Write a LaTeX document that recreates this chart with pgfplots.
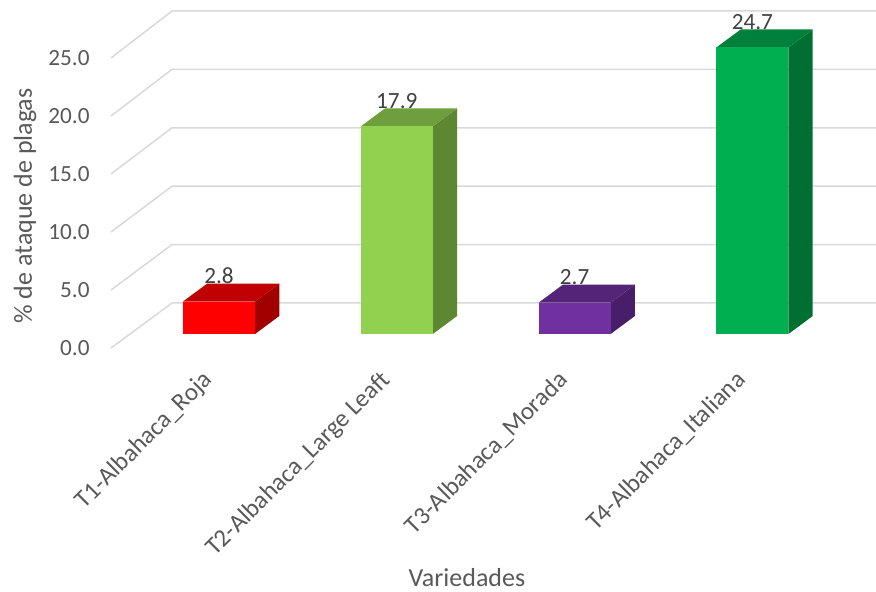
\documentclass[border=0pt]{standalone}
\usepackage{fontspec}
\setmainfont{Carlito}
\usepackage{pgfplots}
\pgfplotsset{compat=1.18}

\definecolor{txt}{HTML}{595959}
\definecolor{gridc}{HTML}{D9D9D9}
% front / top / side shades of each column
\definecolor{c1f}{HTML}{FF0000}\definecolor{c1t}{HTML}{C00000}\definecolor{c1s}{HTML}{A00000}
\definecolor{c2f}{HTML}{92D050}\definecolor{c2t}{HTML}{6F9E3C}\definecolor{c2s}{HTML}{5E8732}
\definecolor{c3f}{HTML}{7030A0}\definecolor{c3t}{HTML}{542478}\definecolor{c3s}{HTML}{481E68}
\definecolor{c4f}{HTML}{00B050}\definecolor{c4t}{HTML}{00803A}\definecolor{c4s}{HTML}{007032}

% half width of a column and the oblique depth offset, in data units
\newcommand\hw{0.2025}
\newcommand\dX{0.1367}
\newcommand\dY{1.552}

% #1 category index, #2 value, #3 front, #4 top, #5 side colour
\newcommand\column[5]{%
  \pgfmathsetmacro\xl{#1-\hw}%
  \pgfmathsetmacro\xr{#1+\hw}%
  \pgfmathsetmacro\xlb{#1-\hw+\dX}%
  \pgfmathsetmacro\xrb{#1+\hw+\dX}%
  \pgfmathsetmacro\yt{#2+\dY}%
  \addplot[draw=none, fill=#5] coordinates {(\xr,0) (\xr,#2) (\xrb,\yt) (\xrb,\dY)};
  \addplot[draw=none, fill=#4] coordinates {(\xl,#2) (\xlb,\yt) (\xrb,\yt) (\xr,#2)};
  \addplot[ybar, bar width=36pt, bar shift=0pt, draw=none, fill=#3,
    nodes near coords={\pgfmathprintnumber[fixed,fixed zerofill,precision=1,assume math mode=true]{\pgfplotspointmeta}},
    every node near coord/.append style={anchor=south, inner sep=0pt, yshift=8.8pt,
      font=\fontsize{11.6}{13}\selectfont, text=black!75}]
    coordinates {(#1,#2)};
}

\begin{document}
\begin{tikzpicture}
\begin{axis}[
  scale only axis, width=438pt, height=296pt,
  xmin=-1.2317, xmax=3.6952, ymin=-22.241, ymax=28.793,
  clip=false,
  axis line style={draw=none}, tick style={draw=none},
  xtick={0,1,2,3},
  xticklabels={T1-Albahaca\_Roja, T2-Albahaca\_Large Leaft, T3-Albahaca\_Morada, T4-Albahaca\_Italiana},
  xticklabel style={xshift=-2.75pt, yshift=105.5pt, rotate=45, anchor=base east,
    inner sep=0pt, font=\fontsize{12.5}{14}\selectfont, text=txt},
  ytick={0,5,...,25},
  scaled y ticks=false,
  yticklabel style={xshift=45pt, yshift=-7pt, anchor=east, inner sep=0pt,
    font=\fontsize{11.6}{13}\selectfont, text=txt,
    /pgf/number format/.cd, fixed, fixed zerofill, precision=1, assume math mode=true},
  xlabel={Variedades},
  ylabel={\% de ataque de plagas},
  every axis x label/.style={at={(axis description cs:0.533,0.0236)}, anchor=center,
    font=\fontsize{13}{15}\selectfont, text=txt},
  every axis y label/.style={at={(axis description cs:0.0285,0.652)}, rotate=90, anchor=center,
    font=\fontsize{13}{15}\selectfont, text=txt},
]
% side-wall and back-wall gridlines
\pgfplotsinvokeforeach{0,5,...,25}{%
  \pgfmathsetmacro\yf{#1-1.2069}%
  \pgfmathsetmacro\yb{(11.68*#1+31)/11.6}%
  \addplot[gridc, line width=0.75pt] coordinates {(-0.6074,\yf) (-0.2643,\yb) (3.6952,\yb)};
}
\column{0}{2.8}{c1f}{c1t}{c1s}
\column{1}{17.9}{c2f}{c2t}{c2s}
\column{2}{2.7}{c3f}{c3t}{c3s}
\column{3}{24.7}{c4f}{c4t}{c4s}
\end{axis}
\pgfresetboundingbox
\useasboundingbox (current axis.south west) rectangle (current axis.north east);
\end{tikzpicture}
\end{document}
